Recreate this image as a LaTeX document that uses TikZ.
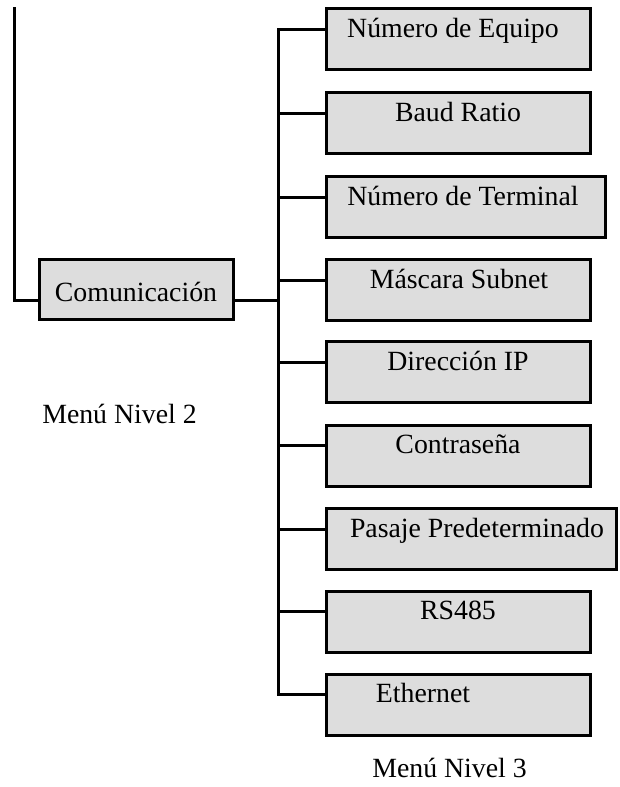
\documentclass[tikz,border=0pt]{standalone}
\usepackage{fontspec}
\setmainfont{Liberation Serif}
\definecolor{boxgray}{RGB}{221,221,221}
\tikzset{
  box/.style={draw=black, line width=3pt, fill=boxgray, inner sep=0pt, minimum height=61pt},
  lbl/.style={anchor=base, inner sep=0pt, font=\fontsize{27.8}{32}\selectfont},
  conn/.style={line width=3pt, line cap=rect}
}
\begin{document}
\begin{tikzpicture}[x=1pt,y=-1pt]
\useasboundingbox (0,0) rectangle (620,787);
% level 2
\node[box, minimum width=194pt, minimum height=60pt] (com) at (136.5,289.5) {};
\node[lbl] (comt) at (136,301) {Comunicación};
\coordinate (topL) at (14,8);
\coordinate (cornL) at (14,300);
\draw[conn] (topL) -- (cornL) -- (cornL -| com.west);
\coordinate (trunkT) at (278,29);
\coordinate (trunkB) at (278,694);
\draw[conn] (com.east |- cornL) -- (trunkT |- cornL);
\draw[conn] (trunkT) -- (trunkB);
% level 3 boxes
\foreach \n/\cx/\w/\cy/\ly/\tx/\txt in {
  1/458.5/264/39/29/453/{Número de Equipo},
  2/458.5/264/122.5/113/458/{Baud Ratio},
  3/466/279/206.5/197/463/{Número de Terminal},
  4/458.5/264/289.5/280/459/{Máscara Subnet},
  5/458.5/264/372/362/458/{Dirección IP},
  6/458.5/264/455.5/445/458/{Contraseña},
  7/471.5/290/538.5/529/477/{Pasaje Predeterminado},
  8/458.5/264/621.5/611/458/{RS485},
  9/458.5/264/705/694/423/{Ethernet}}{
  \node[box, minimum width=\w pt] (b\n) at (\cx,\cy) {};
  \node[lbl] (t\n) at (\tx,\ly+8.5) {\txt};
  \coordinate (j\n) at (278,\ly);
  \draw[conn] (j\n) -- (j\n -| b\n.west);
}
\node[lbl] (m2) at (119.5,423) {Menú Nivel 2};
\node[lbl] (m3) at (449.5,777) {Menú Nivel 3};
\end{tikzpicture}
\end{document}
